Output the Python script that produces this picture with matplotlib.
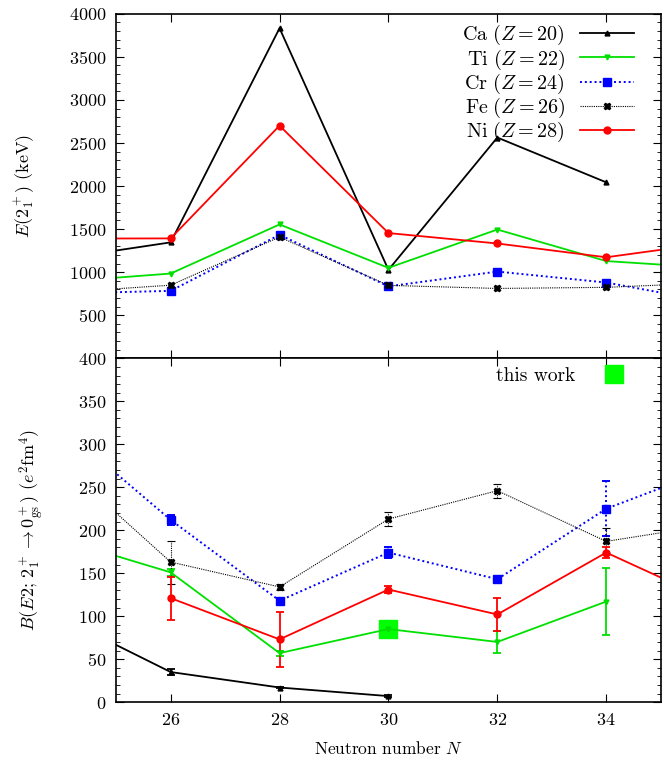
import matplotlib
matplotlib.use("Agg")
import matplotlib.pyplot as plt
import numpy as np

plt.rcParams['font.family'] = 'serif'
plt.rcParams['font.serif'] = ['cmr10', 'DejaVu Serif']
plt.rcParams['mathtext.fontset'] = 'cm'
plt.rcParams['axes.formatter.use_mathtext'] = True
plt.rcParams['axes.unicode_minus'] = False
plt.rcParams['font.size'] = 12

# neutron numbers
N = [24, 26, 28, 30, 32, 34, 36]

# E(2+) in keV
E_ca = [1157, 1346, 3832, 1027, 2563, 2043]
E_ti = [889, 984, 1554, 1050, 1495, 1129, 1047]
E_cr = [752, 783, 1434, 835, 1007, 880, 646]
E_fe = [765, 849, 1408, 847, 811, 824, 877]
E_ni = [1390, 1392, 2701, 1454, 1333, 1173, 1346]

# B(E2) in e^2 fm^4, with errors
B_ca = [98, 35, 17, 7]
dB_ca = [0, 3, 1, 1]
B_ti = [189, 151, 57, 85, 70, 117]
dB_ti = [0, 4, 3, 0, 13, 39]
B_cr = [320, 212, 118, 174, 143, 225, 273]
dB_cr = [0, 6, 3, 6, 3, 32, 0]
B_fe = [277, 163, 134, 213, 246, 187, 207]
dB_fe = [0, 25, 3, 8, 8, 15, 0]
N_ni_b = [26, 28, 30, 32, 34, 36]
B_ni = [121, 73, 131, 102, 174, 116]
dB_ni = [25, 32, 4, 19, 6, 0]

this_N = [30]
this_B = [85]

fig = plt.figure(figsize=(6.64, 7.64), dpi=100)
ax1 = fig.add_axes((0.175, 0.531, 0.82, 0.451))
ax2 = fig.add_axes((0.175, 0.081, 0.82, 0.450))

styles = {
    'ca': dict(color='black', ls='-', marker='^', ms=3.5, lw=1.3),
    'ti': dict(color='#00e000', ls='-', marker='v', ms=3.5, lw=1.3),
    'cr': dict(color='blue', ls=(0, (1, 1.5)), marker='s', ms=6, lw=1.4),
    'fe': dict(color='black', ls=(0, (1, 1)), marker='X', ms=5, lw=0.8),
    'ni': dict(color='red', ls='-', marker='o', ms=5, lw=1.3),
}

ax1.plot(N[:6], E_ca, label=r'$\mathrm{Ca}\ (Z=20)$', **styles['ca'])
ax1.plot(N, E_ti, label=r'$\mathrm{Ti}\ (Z=22)$', **styles['ti'])
ax1.plot(N, E_cr, label=r'$\mathrm{Cr}\ (Z=24)$', **styles['cr'])
ax1.plot(N, E_fe, label=r'$\mathrm{Fe}\ (Z=26)$', **styles['fe'])
ax1.plot(N, E_ni, label=r'$\mathrm{Ni}\ (Z=28)$', **styles['ni'])

ax1.legend(loc='upper right', bbox_to_anchor=(0.985, 1.025), frameon=False, markerfirst=False,
           handlelength=2.7, labelspacing=0.0, fontsize=14.5, handletextpad=0.75)


def eb(ax, x, y, dy, st):
    res = ax.errorbar(x, y, yerr=dy, capsize=3, elinewidth=st['lw'], capthick=st['lw'], **st)
    for c in res[2]:
        c.set_linestyle(st['ls'])
    return res


eb(ax2, N[:4], B_ca, dB_ca, styles['ca'])
eb(ax2, N[:6], B_ti, dB_ti, styles['ti'])
eb(ax2, N, B_cr, dB_cr, styles['cr'])
eb(ax2, N, B_fe, dB_fe, styles['fe'])
eb(ax2, N_ni_b, B_ni, dB_ni, styles['ni'])
ax2.plot(this_N, this_B, ls='none', marker='s', ms=13, color='#00ff00', label='this work')
ax2.legend(loc='upper right', bbox_to_anchor=(0.993, 1.025), frameon=False, markerfirst=False,
           handlelength=2.6, fontsize=14, handletextpad=0.7)

for ax in (ax1, ax2):
    ax.set_xlim(25, 35)
    ax.set_xticks([26, 28, 30, 32, 34])
    ax.tick_params(which='both', direction='in', top=True, right=True, labelsize=13)
    ax.tick_params(which='major', length=6, pad=7)
    ax.tick_params(which='minor', length=3)
    for s in ax.spines.values():
        s.set_linewidth(1.2)

ax1.set_ylim(0, 4000)
ax1.set_yticks(np.arange(500, 4001, 500))
ax1.set_yticks(np.arange(0, 4001, 100), minor=True)
ax1.tick_params(labelbottom=False)
ax1.set_ylabel(r'$E(2^+_1)$ (keV)', fontsize=13, labelpad=24)

ax2.set_ylim(0, 400)
ax2.set_yticks(np.arange(0, 401, 50))
ax2.set_yticks(np.arange(0, 401, 10), minor=True)
ax2.set_ylabel(r'$B(E2;\,2^+_1\rightarrow 0^+_{\rm gs})$ $(e^2{\rm fm}^4)$', fontsize=13, labelpad=22)
ax2.set_xlabel(r'Neutron number $N$', fontsize=12.5, labelpad=9)

fig.savefig('out.png', dpi=100)
